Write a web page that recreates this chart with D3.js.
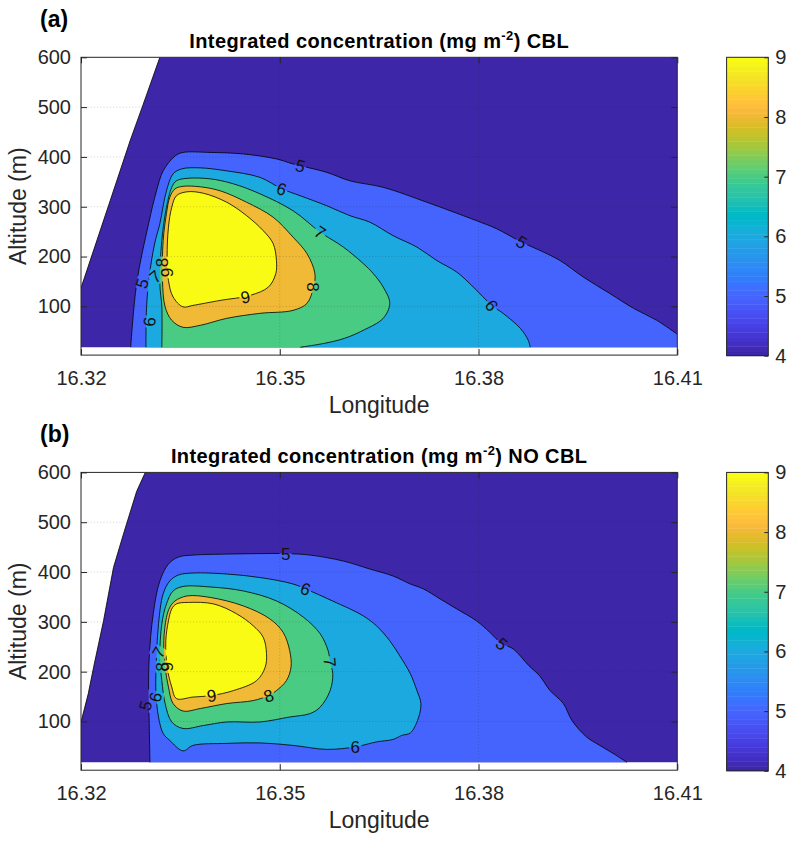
<!DOCTYPE html>
<html><head><meta charset="utf-8">
<script src="https://cdn.jsdelivr.net/npm/d3@7/dist/d3.min.js"></script>
<style>
body{margin:0;background:#fff;}
svg text{font-family:"Liberation Sans",Arial,Helvetica,sans-serif;}
</style></head><body>
<svg id="chart" width="795" height="842" xmlns="http://www.w3.org/2000/svg"></svg>
<script>
// ---------- axis / tick data ----------
const lonTicks = [16.32, 16.35, 16.38, 16.41];
const altTicks = [100, 200, 300, 400, 500, 600];
const gridLon = [16.35, 16.38];
const gridAlt = [100, 200, 300, 400, 500];
const colorTicks = [4, 5, 6, 7, 8, 9];
const levels = [4, 5, 6, 7, 8, 9];
const lonRange = [16.32, 16.41];
const altRange = [2.2, 600];
const dataAltMin = 18;   // lowest altitude with data

// ---------- panel (a): CBL  [lon, altitude] ----------
const cblEdge = [[16.3200,137],[16.3244,312],[16.3274,432],[16.3294,506],[16.3319,600]];
const cblLevel5 = [[16.3275,18],[16.3284,146],[16.3302,266],[16.3314,332],[16.3324,372],[16.3342,402],[16.3354,409],[16.3395,409],[16.3445,406],[16.3495,396],[16.3520,386],[16.3571,369],[16.3606,352],[16.3656,339],[16.3722,309],[16.3757,292],[16.3797,272],[16.3827,256],[16.3865,229],[16.3898,209],[16.3923,192],[16.3958,159],[16.3998,126],[16.4034,96],[16.4069,72],[16.4100,44]];
const cblLevel6 = [[16.3298,18],[16.3299,99],[16.3303,160],[16.3311,225],[16.3319,266],[16.3329,332],[16.3339,366],[16.3352,376],[16.3380,378],[16.3420,372],[16.3470,359],[16.3503,336],[16.3531,322],[16.3571,302],[16.3606,282],[16.3636,269],[16.3671,242],[16.3707,219],[16.3737,192],[16.3767,169],[16.3792,139],[16.3820,102],[16.3837,86],[16.3863,56],[16.3875,32],[16.3878,18]];
const cblLevel7 = [[16.3322,18],[16.3322,99],[16.3319,146],[16.3322,232],[16.3329,299],[16.3337,339],[16.3344,352],[16.3360,357],[16.3395,356],[16.3430,346],[16.3470,326],[16.3520,292],[16.3561,249],[16.3596,219],[16.3626,186],[16.3641,166],[16.3656,139],[16.3666,106],[16.3656,76],[16.3626,52],[16.3598,36],[16.3568,26],[16.3531,18]];
const cblLevel8 = [[16.3342,336],[16.3354,341],[16.3380,340],[16.3410,332],[16.3450,309],[16.3490,279],[16.3520,239],[16.3541,206],[16.3553,166],[16.3551,139],[16.3541,106],[16.3520,92],[16.3470,86],[16.3420,76],[16.3380,62],[16.3354,58],[16.3337,72],[16.3327,99],[16.3323,152],[16.3324,232],[16.3329,286],[16.3334,319]];
const cblLevel9 = [[16.3344,322],[16.3360,330],[16.3385,327],[16.3420,309],[16.3450,282],[16.3475,252],[16.3490,226],[16.3495,192],[16.3494,166],[16.3483,139],[16.3455,122],[16.3410,112],[16.3369,102],[16.3354,99],[16.3339,119],[16.3332,152],[16.3330,199],[16.3332,259],[16.3337,299]];
// contour labels: [value, lon, altitude, angle]
const cblLabels = [[5,16.3531,382,15],[6,16.3503,336,18],[7,16.3561,249,35],[5,16.3865,229,30],[6,16.3820,102,55],[8,16.3551,139,90],[9,16.3448,119,-10],[5,16.3292,146,-72],[6,16.3303,69,-85],[7,16.3312,160,-40],[8,16.3322,188,-90],[9,16.3329,168,-90]];

// ---------- panel (b): NO CBL ----------
const noCblEdge = [[16.3200,99],[16.3211,156],[16.3219,209],[16.3234,302],[16.3249,409],[16.3264,476],[16.3284,562],[16.3297,600]];
const noCblLevel5 = [[16.3304,18],[16.3303,96],[16.3302,162],[16.3303,229],[16.3309,316],[16.3319,382],[16.3332,416],[16.3347,430],[16.3369,434],[16.3420,436],[16.3470,437],[16.3509,437],[16.3546,434],[16.3596,422],[16.3636,406],[16.3671,392],[16.3697,376],[16.3717,366],[16.3742,346],[16.3767,326],[16.3797,302],[16.3817,279],[16.3835,256],[16.3852,246],[16.3876,212],[16.3892,192],[16.3908,162],[16.3928,136],[16.3941,102],[16.3963,69],[16.3983,52],[16.4003,36],[16.4024,18]];
const noCblLevel6 = [[16.3334,62],[16.3354,41],[16.3369,52],[16.3420,56],[16.3470,57],[16.3520,52],[16.3571,44],[16.3614,49],[16.3646,59],[16.3671,64],[16.3684,72],[16.3697,77],[16.3709,106],[16.3713,136],[16.3707,162],[16.3697,196],[16.3681,232],[16.3666,262],[16.3646,292],[16.3626,312],[16.3606,326],[16.3596,332],[16.3546,362],[16.3520,376],[16.3470,389],[16.3420,396],[16.3369,398],[16.3347,394],[16.3334,382],[16.3324,356],[16.3317,296],[16.3314,229],[16.3313,162],[16.3317,109],[16.3324,76]];
const noCblLevel7 = [[16.3339,362],[16.3354,371],[16.3395,370],[16.3445,362],[16.3495,342],[16.3536,309],[16.3561,276],[16.3573,242],[16.3576,219],[16.3580,196],[16.3576,162],[16.3561,129],[16.3546,116],[16.3515,109],[16.3470,99],[16.3420,99],[16.3385,92],[16.3354,86],[16.3337,99],[16.3327,136],[16.3322,182],[16.3319,229],[16.3322,296],[16.3329,336]];
const noCblLevel8 = [[16.3342,342],[16.3360,352],[16.3395,349],[16.3445,332],[16.3485,306],[16.3505,279],[16.3515,242],[16.3517,209],[16.3510,182],[16.3495,162],[16.3483,152],[16.3460,142],[16.3420,136],[16.3380,126],[16.3354,121],[16.3339,136],[16.3332,169],[16.3327,209],[16.3325,262],[16.3329,309],[16.3334,329]];
const noCblLevel9 = [[16.3344,336],[16.3362,339],[16.3400,336],[16.3435,316],[16.3460,292],[16.3475,269],[16.3480,236],[16.3478,209],[16.3465,182],[16.3430,162],[16.3397,152],[16.3369,149],[16.3344,146],[16.3337,169],[16.3330,209],[16.3328,262],[16.3332,302],[16.3337,326]];
const noCblLabels = [[5,16.3509,437,0],[6,16.3539,366,20],[5,16.3835,256,40],[7,16.3576,219,85],[8,16.3483,152,-20],[9,16.3397,152,-8],[6,16.3614,49,0],[5,16.3297,132,-75],[6,16.3312,149,-75],[7,16.3317,239,-60],[8,16.3322,210,-90],[9,16.3329,210,-90]];

// ---------- parula colormap (64) ----------
const parula = [
[0.2422,0.1504,0.6603],[0.2504,0.1650,0.7076],[0.2578,0.1818,0.7511],[0.2647,0.1978,0.7952],
[0.2706,0.2147,0.8364],[0.2751,0.2342,0.8710],[0.2783,0.2559,0.8991],[0.2803,0.2782,0.9221],
[0.2813,0.3006,0.9414],[0.2810,0.3228,0.9579],[0.2795,0.3447,0.9717],[0.2760,0.3667,0.9829],
[0.2699,0.3892,0.9906],[0.2602,0.4123,0.9952],[0.2440,0.4358,0.9988],[0.2206,0.4603,0.9973],
[0.1963,0.4847,0.9892],[0.1834,0.5074,0.9798],[0.1786,0.5289,0.9682],[0.1764,0.5499,0.9520],
[0.1687,0.5703,0.9359],[0.1540,0.5902,0.9218],[0.1460,0.6091,0.9079],[0.1380,0.6276,0.8973],
[0.1248,0.6459,0.8883],[0.1113,0.6635,0.8763],[0.0952,0.6798,0.8598],[0.0689,0.6948,0.8394],
[0.0297,0.7082,0.8163],[0.0036,0.7203,0.7917],[0.0067,0.7312,0.7660],[0.0433,0.7411,0.7394],
[0.0964,0.7500,0.7120],[0.1408,0.7584,0.6842],[0.1717,0.7670,0.6554],[0.1938,0.7758,0.6251],
[0.2161,0.7843,0.5923],[0.2470,0.7918,0.5567],[0.2906,0.7973,0.5188],[0.3406,0.8008,0.4789],
[0.3909,0.8029,0.4354],[0.4456,0.8024,0.3909],[0.5044,0.7993,0.3480],[0.5616,0.7942,0.3045],
[0.6174,0.7876,0.2612],[0.6720,0.7793,0.2227],[0.7242,0.7698,0.1910],[0.7738,0.7598,0.1646],
[0.8203,0.7498,0.1535],[0.8634,0.7406,0.1596],[0.9035,0.7330,0.1774],[0.9393,0.7288,0.2100],
[0.9728,0.7298,0.2394],[0.9956,0.7434,0.2371],[0.9970,0.7659,0.2199],[0.9952,0.7893,0.2028],
[0.9892,0.8136,0.1885],[0.9786,0.8386,0.1766],[0.9676,0.8639,0.1643],[0.9610,0.8890,0.1537],
[0.9597,0.9135,0.1423],[0.9628,0.9373,0.1265],[0.9691,0.9606,0.1064],[0.9769,0.9839,0.0805]];

// ---------- layout ----------
const svg = d3.select('#chart');
const PL = 81, PW = 596.3, PH = 297.8;
const CBX = 726.6, CBW = 41.7;
const AX = '#262626';

const x = d3.scaleLinear().domain(lonRange).range([0, PW]);
const y = d3.scaleLinear().domain(altRange).range([PH, 0]);
const cScale = d3.scaleQuantize().domain([levels[0], levels[levels.length-1]])
  .range(parula.map(c => d3.rgb(c[0]*255, c[1]*255, c[2]*255).formatHex()));
const smooth = d3.line().x(d => x(d[0])).y(d => y(d[1])).curve(d3.curveCatmullRom.alpha(0.5));
const smoothClosed = d3.line().x(d => x(d[0])).y(d => y(d[1])).curve(d3.curveCatmullRomClosed.alpha(0.5));
const straight = d3.line().x(d => x(d[0])).y(d => y(d[1]));

const panels = [
  {id:'a', top:57.3, tag:'(a)', suffix:'CBL', edge:cblEdge, labels:cblLabels, contours:[
    {level:5, pts:cblLevel5, closed:false, corners:[[lonRange[1], dataAltMin]]},
    {level:6, pts:cblLevel6, closed:false, corners:[]},
    {level:7, pts:cblLevel7, closed:false, corners:[]},
    {level:8, pts:cblLevel8, closed:true},
    {level:9, pts:cblLevel9, closed:true}]},
  {id:'b', top:472.4, tag:'(b)', suffix:'NO CBL', edge:noCblEdge, labels:noCblLabels, contours:[
    {level:5, pts:noCblLevel5, closed:false, corners:[]},
    {level:6, pts:noCblLevel6, closed:true},
    {level:7, pts:noCblLevel7, closed:true},
    {level:8, pts:noCblLevel8, closed:true},
    {level:9, pts:noCblLevel9, closed:true}]}
];

panels.forEach(p => {
  const g = svg.append('g').attr('transform', `translate(${PL},${p.top})`);
  const defs = g.append('defs');
  defs.append('clipPath').attr('id', 'clip-' + p.id)
    .append('rect').attr('width', PW).attr('height', PH);
  const mask = defs.append('mask').attr('id', 'mask-' + p.id)
    .attr('maskUnits', 'userSpaceOnUse').attr('x', -10).attr('y', -10)
    .attr('width', PW + 20).attr('height', PH + 20);
  mask.append('rect').attr('x', -10).attr('y', -10).attr('width', PW + 20).attr('height', PH + 20).attr('fill', '#fff');
  p.labels.forEach(l => {
    mask.append('rect').attr('x', -6).attr('y', -8.5).attr('width', 12).attr('height', 17)
      .attr('fill', '#000').attr('transform', `translate(${x(l[1])},${y(l[2])}) rotate(${l[3]})`);
  });

  const plot = g.append('g').attr('clip-path', `url(#clip-${p.id})`);
  // base region (level 4)
  const baseCorners = [[lonRange[1], altRange[1]], [lonRange[1], dataAltMin], [lonRange[0], dataAltMin]];
  plot.append('path').attr('d', straight(p.edge.concat(baseCorners)) + 'Z').attr('fill', cScale(levels[0]));
  // filled levels
  p.contours.forEach(c => {
    const d = c.closed ? smoothClosed(c.pts)
      : smooth(c.pts) + c.corners.map(k => `L${x(k[0])},${y(k[1])}`).join('') + 'Z';
    plot.append('path').attr('d', d).attr('fill', cScale(c.level));
  });
  // contour lines (broken at labels)
  const lines = plot.append('g').attr('mask', `url(#mask-${p.id})`)
    .attr('fill', 'none').attr('stroke', '#000').attr('stroke-width', 0.8).attr('stroke-linejoin', 'round');
  lines.append('path').attr('d', straight(p.edge));
  p.contours.forEach(c => lines.append('path').attr('d', c.closed ? smoothClosed(c.pts) : smooth(c.pts)));
  // labels
  plot.selectAll('text.cl').data(p.labels).join('text').attr('class', 'cl')
    .attr('transform', l => `translate(${x(l[1])},${y(l[2])}) rotate(${l[3]})`)
    .attr('text-anchor', 'middle').attr('dy', '0.36em')
    .style('font-size', '17px').style('fill', '#111').text(l => l[0]);

  // grid
  const grid = g.append('g').attr('stroke', AX).attr('stroke-opacity', 0.28)
    .attr('stroke-dasharray', '1,2.2').attr('stroke-width', 0.8);
  grid.selectAll('line.gx').data(gridLon).join('line').attr('class', 'gx')
    .attr('x1', d => x(d)).attr('x2', d => x(d)).attr('y1', 0).attr('y2', PH);
  grid.selectAll('line.gy').data(gridAlt).join('line').attr('class', 'gy')
    .attr('y1', d => y(d)).attr('y2', d => y(d)).attr('x1', 0).attr('x2', PW);

  // axes
  const styleAxis = s => { s.select('.domain').remove(); s.attr('color', AX).style('font-size', '20px'); s.selectAll('text').style('fill', AX); };
  g.append('g').attr('transform', `translate(0,${PH})`)
    .call(d3.axisBottom(x).tickValues(lonTicks).tickFormat(d3.format('.2f')).tickSizeInner(-6).tickSizeOuter(0).tickPadding(16))
    .call(styleAxis);
  g.append('g')
    .call(d3.axisTop(x).tickValues(lonTicks).tickFormat('').tickSizeInner(-6).tickSizeOuter(0))
    .call(styleAxis);
  g.append('g')
    .call(d3.axisLeft(y).tickValues(altTicks).tickFormat(d3.format('d')).tickSizeInner(-6).tickSizeOuter(0).tickPadding(10))
    .call(styleAxis);
  g.append('g').attr('transform', `translate(${PW},0)`)
    .call(d3.axisRight(y).tickValues(altTicks).tickFormat('').tickSizeInner(-6).tickSizeOuter(0))
    .call(styleAxis);
  g.append('rect').attr('width', PW).attr('height', PH).attr('fill', 'none').attr('stroke', AX).attr('stroke-width', 1);

  // axis titles
  g.append('text').attr('x', PW / 2).attr('y', 356).attr('text-anchor', 'middle')
    .style('font-size', '23px').style('fill', AX).text('Longitude');
  g.append('text').attr('transform', `translate(${26 - PL},${PH / 2}) rotate(-90)`).attr('text-anchor', 'middle')
    .style('font-size', '23px').style('fill', AX).text('Altitude (m)');

  // title
  const t = g.append('text').attr('x', PW / 2).attr('y', -9).attr('text-anchor', 'middle')
    .style('font-size', '20px').style('font-weight', 'bold').style('fill', '#000').style('letter-spacing', '0.4px');
  t.append('tspan').text('Integrated concentration (mg m');
  t.append('tspan').attr('dy', -8).style('font-size', '13px').text('-2');
  t.append('tspan').attr('dy', 8).text(') ' + p.suffix);

  // panel tag
  svg.append('text').attr('x', 40).attr('y', p.top - 30.3).style('font-size', '23px')
    .style('font-weight', 'bold').style('fill', '#000').text(p.tag);

  // colorbar
  const cb = svg.append('g').attr('transform', `translate(${CBX},${p.top})`);
  const cy = d3.scaleLinear().domain([levels[0], levels[levels.length-1]]).range([PH + 0.6, 0]);
  cb.selectAll('rect.band').data(cScale.range()).join('rect').attr('class', 'band')
    .attr('x', 0).attr('width', CBW)
    .attr('y', c => cy(cScale.invertExtent(c)[1]))
    .attr('height', c => cy(cScale.invertExtent(c)[0]) - cy(cScale.invertExtent(c)[1]) + 0.4)
    .attr('fill', c => c);
  cb.append('g').attr('transform', `translate(${CBW},0)`)
    .call(d3.axisRight(cy).tickValues(colorTicks).tickFormat(d3.format('d')).tickSizeInner(-4).tickSizeOuter(0).tickPadding(7))
    .call(styleAxis);
  cb.append('rect').attr('width', CBW).attr('height', PH + 0.6).attr('fill', 'none').attr('stroke', AX).attr('stroke-width', 1);
});
</script>
</body></html>
